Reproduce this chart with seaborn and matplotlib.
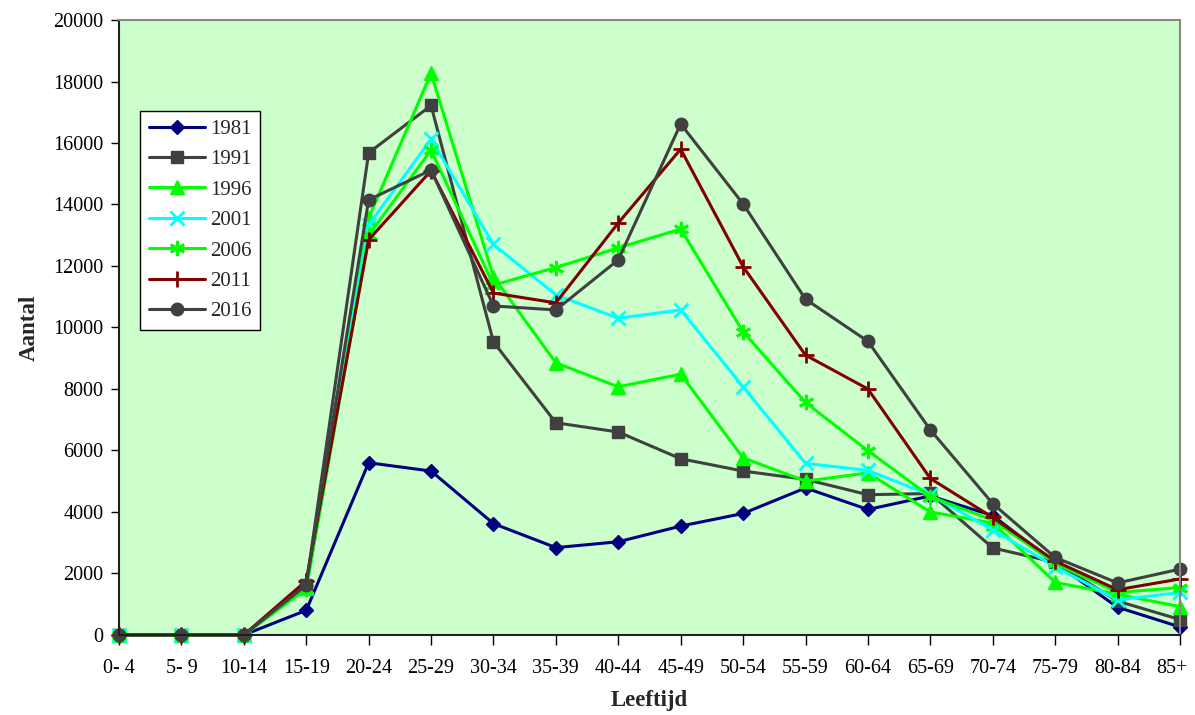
import matplotlib
matplotlib.use("Agg")
import matplotlib.pyplot as plt
import matplotlib.transforms as mtransforms
import pandas as pd
import seaborn as sns

age_groups = ["0- 4", "5- 9", "10-14", "15-19", "20-24", "25-29", "30-34", "35-39", "40-44",
              "45-49", "50-54", "55-59", "60-64", "65-69", "70-74", "75-79", "80-84", "85+"]
years = ["1981", "1991", "1996", "2001", "2006", "2011", "2016"]

v1981 = [0, 0, 0, 800, 5600, 5330, 3620, 2840, 3030, 3540, 3950, 4780, 4080, 4520, 3880, 2340, 900, 260]
v1991 = [0, 0, 0, 1620, 15680, 17220, 9530, 6900, 6600, 5730, 5330, 5060, 4560, 4600, 2830, 2360, 1100, 500]
v1996 = [0, 0, 0, 1520, 13560, 18270, 11650, 8850, 8070, 8480, 5760, 5000, 5270, 4000, 3640, 1710, 1320, 920]
v2001 = [0, 0, 0, 1560, 13330, 16120, 12700, 11060, 10300, 10570, 8070, 5580, 5350, 4550, 3420, 2220, 1140, 1380]
v2006 = [0, 0, 0, 1500, 13000, 15770, 11380, 11950, 12590, 13200, 9860, 7560, 5990, 4500, 3730, 2330, 1380, 1540]
v2011 = [0, 0, 0, 1760, 12850, 15100, 11120, 10800, 13400, 15800, 11980, 9100, 8000, 5090, 3820, 2400, 1470, 1820]
v2016 = [0, 0, 0, 1620, 14150, 15120, 10700, 10570, 12200, 16620, 14020, 10920, 9550, 6670, 4270, 2520, 1690, 2140]

series = [v1981, v1991, v1996, v2001, v2006, v2011, v2016]
colors = ["#000080", "#404040", "#00FF00", "#00FFFF", "#00FF00", "#800000", "#404040"]
markers = ["D", "s", "^", "x", (6, 2, 0), "+", "o"]
msizes = [7.5, 8.5, 10, 10, 11, 12, 9]

df = pd.DataFrame({
    "pos": list(range(len(age_groups))) * len(years),
    "Aantal": [v for s in series for v in s],
    "Jaar": [y for y in years for _ in age_groups],
})

sns.set_style("ticks")
plt.rcParams["font.family"] = ["Liberation Serif", "DejaVu Serif"]

fig = plt.figure(figsize=(11.95, 7.15), dpi=100)
ax = fig.add_axes([0.0996, 0.112, 0.8878, 0.860])
ax.set_facecolor("#CCFFCC")

for year, color, marker, ms in zip(years, colors, markers, msizes):
    sub = df[df["Jaar"] == year]
    sns.lineplot(data=sub, x="pos", y="Aantal", ax=ax, color=color, linewidth=2.2,
                 marker=marker, markersize=ms, markeredgewidth=2 if marker in ("x", "+", (6, 2, 0)) else 1,
                 markeredgecolor=color, label=year, clip_on=False)

ax.set_xlim(0, len(age_groups) - 1)
ax.set_ylim(0, 20000)
ax.set_xticks(range(len(age_groups)))
ax.set_xticklabels(age_groups)
ax.set_yticks(range(0, 20001, 2000))
ax.tick_params(axis="x", direction="out", length=7, width=1, pad=10, labelsize=14.5, colors="black")
ax.tick_params(axis="y", direction="out", length=6, width=1, pad=5, labelsize=14.5, colors="black")

# last label sits against the right edge, nudge it left a bit
last = ax.get_xticklabels()[-1]
last.set_transform(last.get_transform() + mtransforms.ScaledTranslation(-6 / 72, 0, fig.dpi_scale_trans))

for side in ("left", "bottom"):
    ax.spines[side].set_color("#202020")
    ax.spines[side].set_linewidth(1.5)
for side in ("top", "right"):
    ax.spines[side].set_color("#888888")
    ax.spines[side].set_linewidth(1.5)

ax.set_xlabel("Leeftijd", fontsize=16.5, fontweight="bold", labelpad=9)
ax.set_ylabel("Aantal", fontsize=16.5, fontweight="bold", labelpad=10)

leg = ax.legend(loc="upper left", bbox_to_anchor=(0.02, 0.852), fontsize=15, frameon=True,
                fancybox=False, edgecolor="black", facecolor="white", framealpha=1,
                handlelength=2.7, borderpad=0.4, labelspacing=0.52, handletextpad=0.25,
                borderaxespad=0)
leg.get_frame().set_linewidth(1)

fig.savefig("out.png", dpi=100)
